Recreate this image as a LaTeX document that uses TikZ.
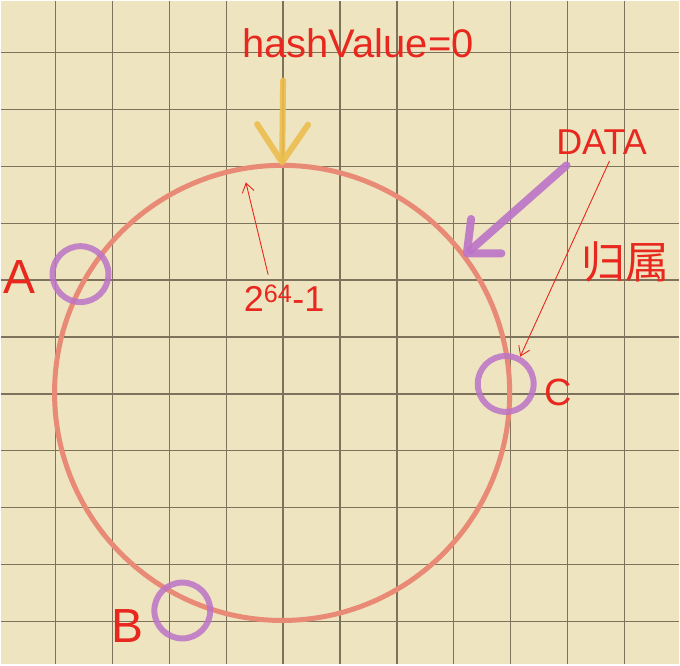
\documentclass[tikz,border=0pt]{standalone}
\usepackage{fontspec}
\setmainfont{Liberation Sans}
\newfontfamily\cjkfont{Noto Sans CJK SC}
\usepackage{xcolor}
\usepackage{tikz}
\usetikzlibrary{arrows.meta, calc}

\definecolor{paper}{RGB}{238,228,192}
\definecolor{gridline}{RGB}{125,115,92}
\definecolor{ringred}{RGB}{232,138,118}
\definecolor{memberpurple}{RGB}{188,116,200}
\definecolor{inkred}{RGB}{232,40,30}
\definecolor{hashyellow}{RGB}{236,190,78}

\begin{document}
\begin{tikzpicture}[
    x=1pt, y=-1pt,
    ring/.style={circle, draw=ringred, line width=5pt, minimum size=456pt,
                 inner sep=0pt, outer sep=0pt},
    member/.style={circle, draw=memberpurple, draw opacity=0.85, line width=6pt,
                   minimum size=56pt, inner sep=0pt},
    ink/.style={text=inkred, inner sep=0pt},
    thinarrow/.style={-{Straight Barb[length=9pt, width=12pt]}, draw=inkred, line width=0.9pt},
    bigarrow/.style={line width=#1, line cap=round}
]

% Paper
\fill[paper] (0,0) rectangle (680,665);
\foreach \i in {0,...,10} {
  \draw[gridline, line width=1.3pt] (55+57*\i,0) -- (55+57*\i,665);
  \draw[gridline, line width=1.3pt] (0,52+57*\i) -- (680,52+57*\i);
}
\useasboundingbox (0,0) rectangle (680,665);

% Ring
\node[ring] (ring) at (282,393) {};

% Members on the ring
\node[member] (nodeA) at (80,274) {};
\node[member] (nodeB) at (182,611) {};
\node[member] (nodeC) at (506,384) {};

\node[ink, font=\fontsize{48}{48}\selectfont] (labelA) at (19,277) {A};
\node[ink, font=\fontsize{48}{48}\selectfont] (labelB) at (127,627) {B};
\node[ink, font=\fontsize{38}{38}\selectfont] (labelC) at (559,393) {C};

% hashValue = 0
\node[ink, font=\fontsize{40}{40}\selectfont] (hashlabel) at (358,43) {hashValue=0};
\coordinate (hashtail) at (283,80);
\draw[bigarrow=6pt, draw=hashyellow, draw opacity=0.9,
      -{Straight Barb[length=38pt, width=51pt, round]}] (hashtail) -- (ring.north);

% 2^64-1
\node[ink, font=\fontsize{36}{36}\selectfont] (maxlabel) at (284,298) {2\textsuperscript{64}-1};
\draw[thinarrow, shorten >=14pt] ([xshift=-16pt, yshift=10pt]maxlabel.north) -- (ring.100);

% DATA
\node[ink, font=\fontsize{36}{36}\selectfont] (datalabel) at (602,142) {DATA};
\coordinate (datatail) at (567,165);
\draw[bigarrow=8pt, draw=memberpurple, draw opacity=0.9,
      -{Straight Barb[length=26pt, width=46pt, round]}] (datatail) -- (ring.37);

% 归属
\node[ink, font=\fontsize{44}{44}\selectfont\cjkfont] (belonglabel) at (626,262) {归属};
\draw[thinarrow] ([xshift=8pt, yshift=-6pt]datalabel.south) -- (nodeC.62);

\end{tikzpicture}
\end{document}
